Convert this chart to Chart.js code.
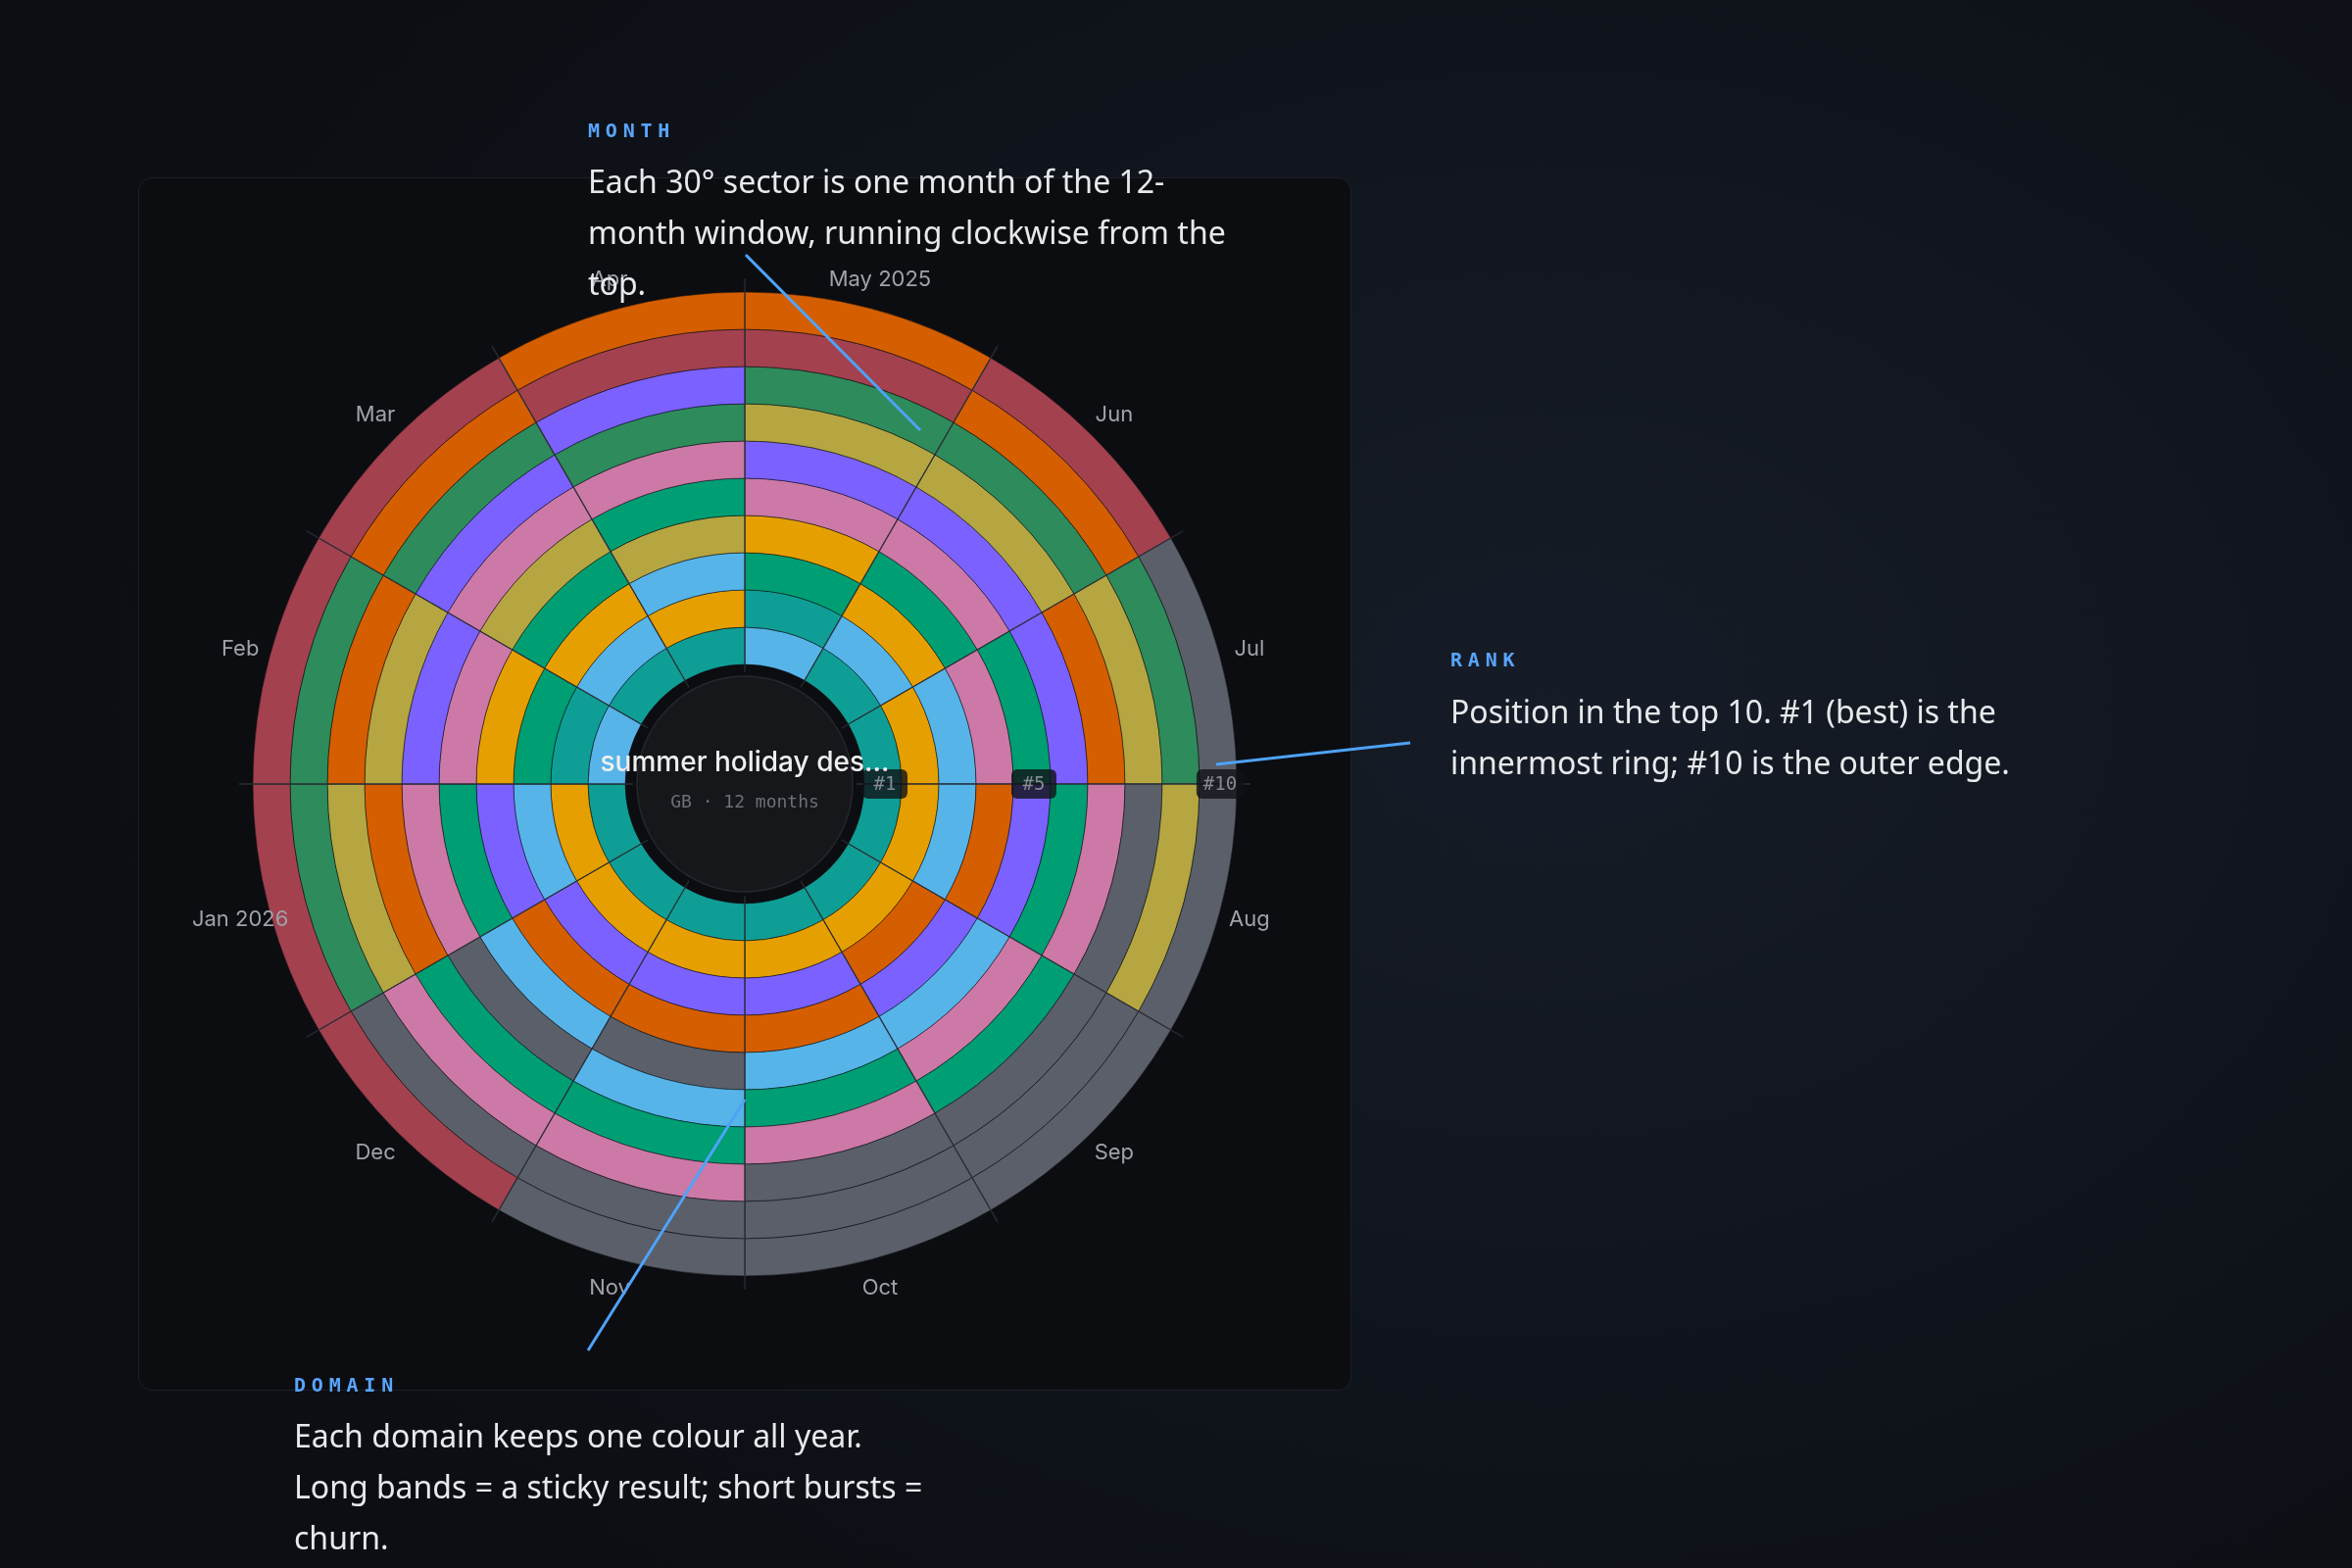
<!DOCTYPE html>
<html>
<head>
<meta charset="utf-8">
<script src="https://cdn.jsdelivr.net/npm/chart.js@4.4.1/dist/chart.umd.min.js"></script>
<style>
  html, body { margin: 0; padding: 0; width: 2400px; height: 1600px; overflow: hidden; }
  body {
    background: radial-gradient(ellipse 1500px 1150px at 1580px 720px, #161c27 0%, #11161f 45%, #0c0e13 100%);
    font-family: "Noto Sans", sans-serif;
    position: relative;
  }
  #card {
    position: absolute; left: 141px; top: 181px; width: 1238px; height: 1238px;
    box-sizing: border-box; background: #0c0d11; border: 1px solid #1d1f25; border-radius: 14px;
  }
  #card canvas { position: absolute; left: 0; top: 0; }
  .lbl {
    position: absolute; font-family: "DejaVu Sans Mono", monospace; font-weight: bold;
    font-size: 20px; letter-spacing: 5.8px; color: #58a6ff; line-height: 30px; white-space: nowrap;
  }
  .body {
    position: absolute; color: #e8e9ec; font-size: 32px; line-height: 52px; white-space: nowrap;
    font-family: "Noto Sans", sans-serif;
  }
  svg#lead { position: absolute; left: 0; top: 0; pointer-events: none; }
</style>
</head>
<body>
<div id="card"><canvas id="c" width="1236" height="1236"></canvas></div>

<svg id="lead" width="2400" height="1600">
  <line x1="761" y1="260" x2="939" y2="439" stroke="#4ea3f7" stroke-width="3"/>
  <line x1="1439" y1="758" x2="1241" y2="780" stroke="#4ea3f7" stroke-width="3"/>
  <line x1="600" y1="1378" x2="760" y2="1122" stroke="#4ea3f7" stroke-width="3"/>
</svg>

<div class="lbl" style="left:600px; top:118px;">MONTH</div>
<div class="body" style="left:600px; top:159px;">Each 30° sector is one month of the 12-<br>month window, running clockwise from the<br>top.</div>

<div class="lbl" style="left:1480px; top:658px;">RANK</div>
<div class="body" style="left:1480px; top:700px;">Position in the top 10. #1 (best) is the<br>innermost ring; #10 is the outer edge.</div>

<div class="lbl" style="left:300px; top:1398px;">DOMAIN</div>
<div class="body" style="left:300px; top:1439px;">Each domain keeps one colour all year.<br>Long bands = a sticky result; short bursts =<br>churn.</div>

<script>
// ---- data ----
const months = ['May 2025', 'Jun', 'Jul', 'Aug', 'Sep', 'Oct', 'Nov', 'Dec', 'Jan 2026', 'Feb', 'Mar', 'Apr'];
const monthShare = [1, 1, 1, 1, 1, 1, 1, 1, 1, 1, 1, 1];
const rankTickLabels = ['#1', '#5', '#10'];
const rankTickValues = [1, 5, 10];
const centreTitle = 'summer holiday des…';
const centreSub = 'GB · 12 months';

// top-10 domain per month, listed #1 first (X = no tracked domain)
const topMay = ['S', 'T', 'E', 'A', 'K', 'P', 'Y', 'G', 'R', 'O'];
const topJun = ['T', 'S', 'A', 'E', 'K', 'P', 'Y', 'G', 'O', 'R'];
const topJul = ['T', 'A', 'S', 'K', 'E', 'P', 'O', 'Y', 'G', 'X'];
const topAug = ['T', 'A', 'S', 'O', 'P', 'E', 'K', 'X', 'Y', 'X'];
const topSep = ['T', 'A', 'O', 'P', 'S', 'K', 'E', 'X', 'X', 'X'];
const topOct = ['T', 'A', 'P', 'O', 'S', 'E', 'K', 'X', 'X', 'X'];
const topNov = ['T', 'A', 'P', 'O', 'X', 'S', 'E', 'K', 'X', 'X'];
const topDec = ['T', 'A', 'P', 'O', 'S', 'X', 'E', 'K', 'X', 'R'];
const topJan = ['T', 'A', 'S', 'P', 'E', 'K', 'O', 'Y', 'G', 'R'];
const topFeb = ['S', 'T', 'E', 'A', 'K', 'P', 'Y', 'O', 'G', 'R'];
const topMar = ['T', 'S', 'A', 'E', 'Y', 'K', 'P', 'G', 'O', 'R'];
const topApr = ['T', 'A', 'S', 'Y', 'E', 'K', 'G', 'P', 'R', 'O'];
const topByMonth = [topMay, topJun, topJul, topAug, topSep, topOct, topNov, topDec, topJan, topFeb, topMar, topApr];

const domainColours = {
  T: '#0f9e96', A: '#e69f00', S: '#56b4e9', E: '#009e73', K: '#cc79a7',
  P: '#7b61ff', O: '#d55e00', Y: '#b5a642', G: '#2e8b5c', R: '#a3414f', X: '#5a5f69'
};

// ---- chart ----
const rankCount = 10;
const datasets = [];
for (let rank = rankCount; rank >= 1; rank--) {
  datasets.push({
    label: '#' + rank,
    data: monthShare,
    backgroundColor: topByMonth.map(list => domainColours[list[rank - 1]]),
    borderColor: 'rgba(10,11,14,0.5)',
    borderWidth: 1,
    hoverOffset: 0
  });
}

const radialDecor = {
  id: 'radialDecor',
  beforeDatasetsDraw(chart) {
    const ctx = chart.ctx;
    const a = chart.getDatasetMeta(0).data[0];
    ctx.save();
    ctx.beginPath();
    ctx.arc(a.x, a.y, 110, 0, Math.PI * 2);
    ctx.fillStyle = '#16171b';
    ctx.fill();
    ctx.lineWidth = 1.5;
    ctx.strokeStyle = '#25272c';
    ctx.stroke();
    ctx.restore();
  },
  afterDatasetsDraw(chart) {
    const ctx = chart.ctx;
    const outerArcs = chart.getDatasetMeta(0).data;
    const innerArcs = chart.getDatasetMeta(chart.data.datasets.length - 1).data;
    const cx = outerArcs[0].x, cy = outerArcs[0].y;
    const R = outerArcs[0].outerRadius;
    const r0 = innerArcs[0].innerRadius;
    ctx.save();
    // radial month dividers
    ctx.strokeStyle = 'rgba(46,49,56,0.9)';
    ctx.lineWidth = 1.3;
    outerArcs.forEach(a => {
      const t = a.startAngle;
      ctx.beginPath();
      ctx.moveTo(cx + Math.cos(t) * (r0 - 8), cy + Math.sin(t) * (r0 - 8));
      ctx.lineTo(cx + Math.cos(t) * (R + 14), cy + Math.sin(t) * (R + 14));
      ctx.stroke();
    });
    // month labels
    ctx.font = '22px Inter, "Noto Sans", sans-serif';
    ctx.fillStyle = '#9ea2a9';
    ctx.textAlign = 'center';
    ctx.textBaseline = 'middle';
    outerArcs.forEach((a, i) => {
      const t = (a.startAngle + a.endAngle) / 2;
      ctx.fillText(months[i], cx + Math.cos(t) * (R + 31), cy + Math.sin(t) * (R + 31));
    });
    // rank pills along 3 o'clock
    ctx.font = '19px "DejaVu Sans Mono", monospace';
    rankTickValues.forEach((rk, j) => {
      const arc = chart.getDatasetMeta(rankCount - rk).data[0];
      const rm = (arc.innerRadius + arc.outerRadius) / 2;
      const x = cx + rm + 2, y = cy;
      const w = Math.max(ctx.measureText(rankTickLabels[j]).width + 14, 46), h = 30;
      ctx.beginPath();
      ctx.roundRect(x - w / 2, y - h / 2, w, h, 6);
      ctx.fillStyle = 'rgba(16,18,22,0.8)';
      ctx.fill();
      ctx.fillStyle = '#858b94';
      ctx.fillText(rankTickLabels[j], x, y + 1);
    });
    // centre text
    ctx.font = '500 28px Inter, "Noto Sans", sans-serif';
    ctx.fillStyle = '#eeeff1';
    ctx.fillText(centreTitle, cx, cy - 21);
    ctx.font = '18px "DejaVu Sans Mono", monospace';
    ctx.fillStyle = '#6c7077';
    ctx.fillText(centreSub, cx, cy + 19);
    ctx.restore();
  }
};

new Chart(document.getElementById('c'), {
  type: 'doughnut',
  data: { labels: months, datasets },
  options: {
    responsive: false,
    animation: false,
    events: [],
    devicePixelRatio: 1,
    radius: 502,
    cutout: (122 / 502 * 100) + '%',
    layout: { padding: 0 },
    plugins: { legend: { display: false }, tooltip: { enabled: false } }
  },
  plugins: [radialDecor]
});
</script>
</body>
</html>
